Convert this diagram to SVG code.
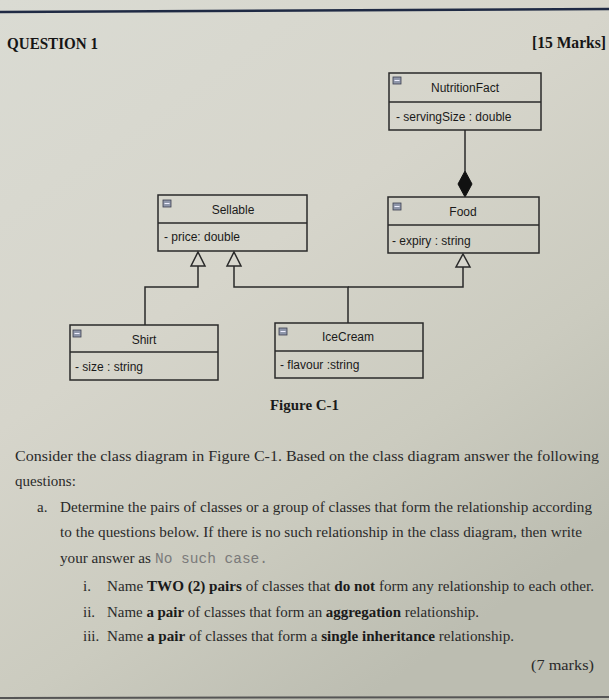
<svg xmlns="http://www.w3.org/2000/svg" width="609" height="700" viewBox="0 0 609 700">
<defs>
<linearGradient id="bg" x1="0" y1="0" x2="0.6" y2="1">
<stop offset="0" stop-color="#dadbd3"/>
<stop offset="0.45" stop-color="#d6d5cb"/>
<stop offset="0.75" stop-color="#cbcbbf"/>
<stop offset="1" stop-color="#bcbdb1"/>
</linearGradient>
<style>
.box{fill:none;stroke:#2a2a2a;stroke-width:1.5}
.cls{font-family:"Liberation Sans",Arial,sans-serif;font-size:12px;fill:#1a1a1a}
.ttl{text-anchor:middle}
.ico{fill:#8f97aa;stroke:#3c4050;stroke-width:0.8}
.icl{stroke:#eef;stroke-width:1}
.con{fill:none;stroke:#2a2a2a;stroke-width:1.5}
.tri{fill:#d8d7ce;stroke:#2a2a2a;stroke-width:1.5}
.dia{fill:#111;stroke:#111;stroke-width:1}
.body{font-family:"Liberation Serif","Times New Roman",serif;font-size:15px;fill:#2a2a2a}
.b{font-weight:bold;fill:#1a1a1a}
.mono{font-family:"Liberation Mono","Courier New",monospace;font-size:14px;fill:#7a7a7a}
.head{font-family:"Liberation Serif","Times New Roman",serif;font-size:16px;font-weight:bold;fill:#151515}
</style>
</defs>
<rect x="0" y="0" width="609" height="700" fill="url(#bg)"/>
<line x1="0" y1="12" x2="609" y2="9" stroke="#1f2a44" stroke-width="2.5"/>
<line x1="0" y1="698" x2="609" y2="697" stroke="#555" stroke-width="2"/>
<text class="head" x="7" y="49" textLength="91" lengthAdjust="spacingAndGlyphs">QUESTION 1</text>
<text class="head" x="532" y="48" textLength="74" lengthAdjust="spacingAndGlyphs">[15 Marks]</text>

<g id="connectors">
<line class="con" x1="465" y1="130" x2="465" y2="171"/>
<path class="dia" d="M465 171 L472 184 L465 197 L458 184 Z"/>
<polyline class="con" points="198,266 198,287 145,287 145,325"/>
<polyline class="con" points="234,266 234,287 348,287 348,323"/>
<polyline class="con" points="463,267 463,287 348,287"/>
<path class="tri" d="M198 252 L205 266 L191 266 Z"/>
<path class="tri" d="M234 252 L241 266 L227 266 Z"/>
<path class="tri" d="M463 254 L470 267 L456 267 Z"/>
</g>

<g id="NutritionFact">
<rect class="box" x="389" y="73" width="152" height="57"/>
<line class="box" x1="389" y1="102" x2="541" y2="102"/>
<rect class="ico" x="393" y="77" width="8" height="7"/><line class="icl" x1="394.5" y1="80.5" x2="399.5" y2="80.5"/>
<text class="cls ttl" x="465" y="92">NutritionFact</text>
<text class="cls" x="396" y="121">- servingSize : double</text>
</g>

<g id="Sellable">
<rect class="box" x="158" y="195" width="149" height="56"/>
<line class="box" x1="158" y1="223" x2="307" y2="223"/>
<rect class="ico" x="163" y="200" width="8" height="7"/><line class="icl" x1="164.5" y1="203.5" x2="169.5" y2="203.5"/>
<text class="cls ttl" x="233" y="214">Sellable</text>
<text class="cls" x="164" y="241">- price: double</text>
</g>

<g id="Food">
<rect class="box" x="388" y="197" width="151" height="56"/>
<line class="box" x1="388" y1="225" x2="539" y2="225"/>
<rect class="ico" x="393" y="203" width="8" height="7"/><line class="icl" x1="394.5" y1="206.5" x2="399.5" y2="206.5"/>
<text class="cls ttl" x="463" y="216">Food</text>
<text class="cls" x="392" y="245">- expiry : string</text>
</g>

<g id="Shirt">
<rect class="box" x="70" y="325" width="148" height="55"/>
<line class="box" x1="70" y1="352" x2="218" y2="352"/>
<rect class="ico" x="73" y="330" width="8" height="7"/><line class="icl" x1="74.5" y1="333.5" x2="79.5" y2="333.5"/>
<text class="cls ttl" x="144" y="344">Shirt</text>
<text class="cls" x="75" y="371">- size : string</text>
</g>

<g id="IceCream">
<rect class="box" x="275" y="323" width="148" height="55"/>
<line class="box" x1="275" y1="351" x2="423" y2="351"/>
<rect class="ico" x="279" y="328" width="8" height="7"/><line class="icl" x1="280.5" y1="331.5" x2="285.5" y2="331.5"/>
<text class="cls ttl" x="348" y="341">IceCream</text>
<text class="cls" x="280" y="369">- flavour :string</text>
</g>

<text class="body b" x="270" y="410" textLength="69" lengthAdjust="spacingAndGlyphs">Figure C-1</text>

<text class="body" x="15" y="461" textLength="584" lengthAdjust="spacingAndGlyphs">Consider the class diagram in Figure C-1. Based on the class diagram answer the following</text>
<text class="body" x="15" y="486">questions:</text>
<text class="body" x="37" y="512">a.</text>
<text class="body" x="60" y="512" textLength="532" lengthAdjust="spacingAndGlyphs">Determine the pairs of classes or a group of classes that form the relationship according</text>
<text class="body" x="60" y="537" textLength="522" lengthAdjust="spacingAndGlyphs">to the questions below. If there is no such relationship in the class diagram, then write</text>
<text class="body" x="60" y="563" textLength="91" lengthAdjust="spacingAndGlyphs">your answer as</text>
<text class="mono" x="155" y="563" textLength="113" lengthAdjust="spacingAndGlyphs">No such case.</text>
<text class="body" x="83" y="591">i.</text>
<text class="body" x="107" y="591" textLength="487" lengthAdjust="spacingAndGlyphs">Name <tspan class="b">TWO (2) pairs</tspan> of classes that <tspan class="b">do not</tspan> form any relationship to each other.</text>
<text class="body" x="83" y="617">ii.</text>
<text class="body" x="107" y="617" textLength="372" lengthAdjust="spacingAndGlyphs">Name <tspan class="b">a pair</tspan> of classes that form an <tspan class="b">aggregation</tspan> relationship.</text>
<text class="body" x="83" y="641">iii.</text>
<text class="body" x="107" y="641" textLength="407" lengthAdjust="spacingAndGlyphs">Name <tspan class="b">a pair</tspan> of classes that form a <tspan class="b">single inheritance</tspan> relationship.</text>
<text class="body" x="531" y="670" textLength="63" lengthAdjust="spacingAndGlyphs">(7 marks)</text>
</svg>
